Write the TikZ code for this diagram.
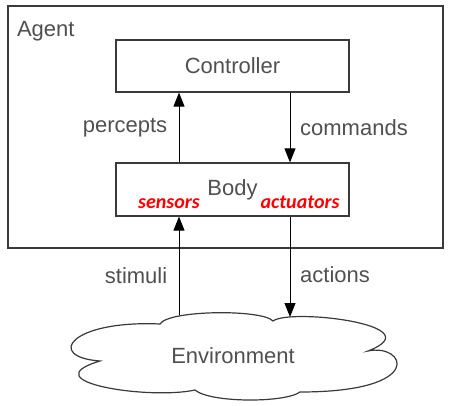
\documentclass[tikz,border=0pt]{standalone}
\usepackage{fontspec}
\setmainfont{Liberation Sans}
\newfontfamily\calfont{Carlito}
\usetikzlibrary{arrows.meta}

\definecolor{txtgray}{HTML}{505050}
\definecolor{linegray}{HTML}{3A3A3A}

\begin{document}
\begin{tikzpicture}[x=0.5pt, y=-0.5pt,
    box/.style={draw=linegray, line width=0.6pt, fill=white, inner sep=0pt},
    lbl/.style={text=txtgray, font=\fontsize{11}{13}\selectfont},
    part/.style={text=red, font=\calfont\bfseries\itshape\fontsize{10}{12}\selectfont},
    flow/.style={draw=black, line width=0.5pt, -{Triangle[length=7pt, width=5.5pt]}}]

  \useasboundingbox (0,0) rectangle (460,406);

  % Agent frame
  \node[box, minimum width=217.5pt, minimum height=121pt] (agent) at (225.5,127) {};
  \node[lbl, anchor=base west] (agentlbl) at (10,37) {Agent};

  % Controller and body
  \node[box, lbl, minimum width=116.5pt, minimum height=26pt] (ctrl) at (232.5,66) {Controller};
  \node[box, minimum width=116.5pt, minimum height=26.5pt] (body) at (232.5,189.5) {};
  \node[lbl, anchor=base] (bodylbl) at (232.5,196) {Body};
  \node[part, anchor=base] (sens) at (169,209) {sensors};
  \node[part, anchor=base] (act) at (300,209) {actuators};

  % Environment (cloud)
  \draw[linegray, line width=0.6pt, fill=white]
    (160,324) .. controls (168,310) and (262,309) .. (273,321)
              .. controls (290,308) and (435,325) .. (368,351)
              .. controls (405,343) and (428,392) .. (300,392)
              .. controls (285,403) and (210,403) .. (195,390)
              .. controls (150,400) and (30,382) .. (100,361)
              .. controls (45,357) and (70,320) .. (160,324) -- cycle;
  \node[lbl] (env) at (233,356) {Environment};

  % Arrows
  \coordinate (sx) at (179,0);
  \coordinate (ax) at (290,0);
  \coordinate (envin) at (179,315);
  \coordinate (envout) at (290,317);

  \draw[flow] (body.north -| sx) -- node[lbl, left=2.3pt] {percepts} (ctrl.south -| sx);
  \draw[flow] (ctrl.south -| ax) -- node[lbl, right=1.5pt] {commands} (body.north -| ax);
  \draw[flow] (envin) -- node[lbl, left=2.3pt, pos=0.4] {stimuli} (body.south -| sx);
  \draw[flow] (body.south -| ax) -- node[lbl, right=1.5pt, pos=0.58] {actions} (envout);

\end{tikzpicture}
\end{document}
